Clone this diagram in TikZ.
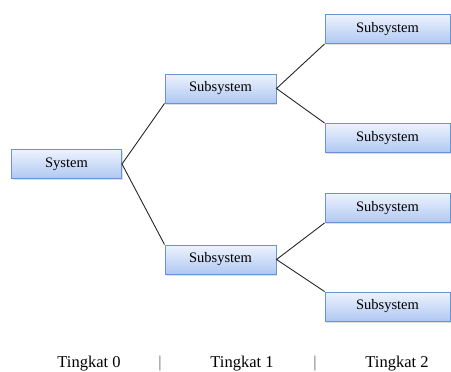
\documentclass[tikz,border=0pt]{standalone}
\usepackage{fontspec}
\setmainfont{Liberation Serif}
\usetikzlibrary{shadows}
\definecolor{boxtop}{HTML}{EEF3FD}
\definecolor{boxbot}{HTML}{AFC8F2}
\definecolor{boxline}{HTML}{6A92D4}
\tikzset{
  sysbox/.style={draw=boxline, line width=1pt, top color=boxtop, bottom color=boxbot,
    minimum height=29pt, inner sep=0pt, font=\fontsize{14.5}{17}\selectfont,
    drop shadow={opacity=0.25, shadow xshift=1.2pt, shadow yshift=-1.8pt}},
  conn/.style={draw=black!85, line width=0.9pt},
  lvl/.style={font=\fontsize{16.5}{19}\selectfont, inner sep=0pt},
  sep/.style={font=\fontsize{16.5}{19}\selectfont, inner sep=0pt, text=black!60}
}
\begin{document}
\begin{tikzpicture}[x=1pt, y=-1pt]
\useasboundingbox (0,0) rectangle (451,372);
\node[sysbox, minimum width=110pt] (sys) at (66.5,164) {System};
\node[sysbox, minimum width=111pt] (s1) at (220.5,88.5) {Subsystem};
\node[sysbox, minimum width=111pt] (s2) at (220.5,259.5) {Subsystem};
\node[sysbox, minimum width=125pt] (a) at (387.5,29) {Subsystem};
\node[sysbox, minimum width=125pt] (b) at (387.5,138) {Subsystem};
\node[sysbox, minimum width=125pt] (c) at (387.5,208) {Subsystem};
\node[sysbox, minimum width=125pt] (d) at (387.5,306.5) {Subsystem};
\draw[conn] (s1.south west) -- (sys.east) -- (s2.north west);
\draw[conn] (a.south west) -- (s1.east) -- (b.north west);
\draw[conn] (c.south west) -- (s2.east) -- (d.north west);
\node[lvl] (t0) at (89,364) {Tingkat 0};
\node[sep] (p1) at (160,364) {|};
\node[lvl] (t1) at (242,364) {Tingkat 1};
\node[sep] (p2) at (315,364) {|};
\node[lvl] (t2) at (397,364) {Tingkat 2};
\end{tikzpicture}
\end{document}
